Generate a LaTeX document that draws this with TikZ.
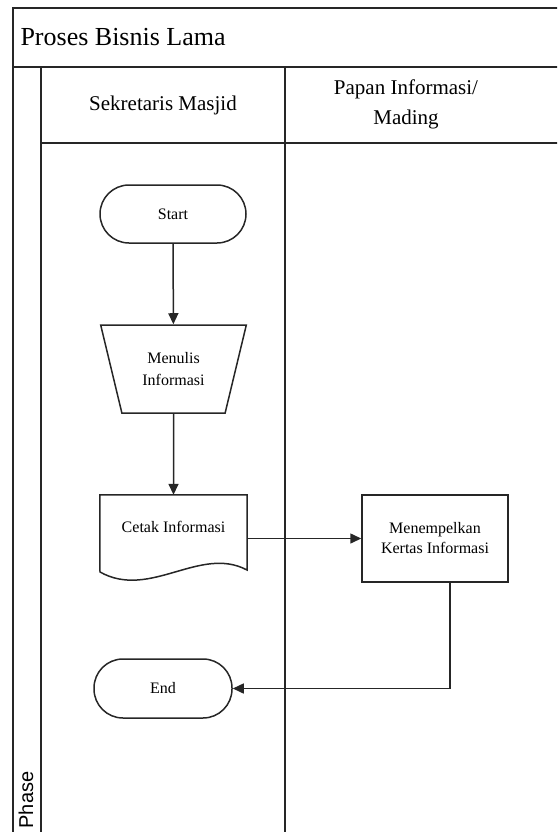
\documentclass[tikz,border=0pt]{standalone}
\usepackage{fontspec}
\setmainfont{Liberation Serif}
\newfontfamily\phasefont{Liberation Sans}
\usetikzlibrary{shapes.geometric,arrows.meta}

\begin{document}
\begin{tikzpicture}[x=1pt,y=-1pt,
  line/.style={draw=black!85,line width=1.5pt},
  flow/.style={line,-{Triangle[length=11pt,width=10pt]}},
  term/.style={line,rectangle,rounded corners=29pt,minimum width=146pt,minimum height=58pt,inner sep=0pt,font=\fontsize{16}{19}\selectfont},
  manual/.style={line,trapezium,trapezium stretches=true,shape border rotate=180,
    trapezium left angle=69,trapezium right angle=69,
    minimum width=147pt,minimum height=88pt,inner sep=0pt,align=center,font=\fontsize{16}{22}\selectfont},
  procbox/.style={line,rectangle,minimum width=146pt,minimum height=87pt,inner sep=0pt,align=center,font=\fontsize{16}{20}\selectfont},
  docframe/.style={rectangle,minimum width=147pt,minimum height=87pt,inner sep=0pt},
  lanehead/.style={align=center,font=\fontsize{21}{30}\selectfont}]

\useasboundingbox (0,0) rectangle (557,832);
\clip (0,0) rectangle (557,832);

% swimlane frame
\draw[line] (13,850) -- (13,8) -- (570,8);
\draw[line] (13,67) -- (570,67);
\draw[line] (41,67) -- (41,850);
\draw[line] (41,143) -- (570,143);
\draw[line] (285,67) -- (285,850);

% titles
\node[anchor=west,font=\fontsize{26}{30}\selectfont] (title) at (17,37) {Proses Bisnis Lama};
\node[lanehead] (lane1) at (163,105) {Sekretaris Masjid};
\node[lanehead] (lane2) at (406,104) {Papan Informasi/\\Mading};
\node[rotate=90,font=\phasefont\fontsize{20}{24}\selectfont] (phase) at (26,800) {Phase};

% flow elements
\node[term] (start) at (173,214) {Start};
\node[manual] (tulis) at (173.5,369) {Menulis\\Informasi};
\node[docframe] (doc) at (173.5,538.5) {};
\draw[line] (doc.north west) -- (doc.north east) -- (247,570)
  .. controls (200,545) and (150,600) .. (100,572) -- cycle;
\node[font=\fontsize{16}{19}\selectfont] (doctext) at (173.5,527) {Cetak Informasi};
\node[procbox] (tempel) at (435,538.5) {Menempelkan\\Kertas Informasi};
\node[term,minimum width=138pt,minimum height=59pt] (end) at (163,688.5) {End};

% connectors
\draw[flow] (start) -- (tulis);
\draw[flow] (tulis) -- (doc);
\draw[flow] (doc.east) -- (tempel.west);
\draw[flow] ([xshift=15pt]tempel.south) |- (end.east);
\end{tikzpicture}
\end{document}
